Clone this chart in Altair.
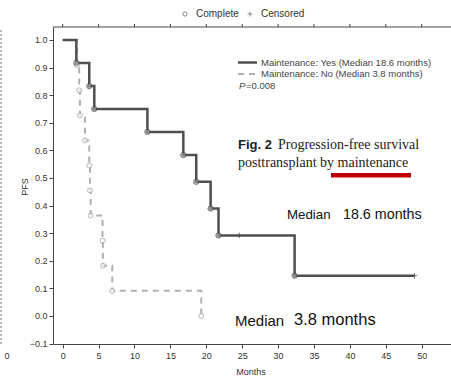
import altair as alt
import pandas as pd

# ---- data ----
yes_months = [0, 1.9, 3.7, 4.4, 11.8, 16.8, 18.6, 20.6, 21.7, 32.3, 49.0]
yes_pfs = [1.0, 0.917, 0.833, 0.75, 0.667, 0.583, 0.486, 0.389, 0.292, 0.146, 0.146]
yes_event_months = [1.9, 3.7, 4.4, 11.8, 16.8, 18.6, 20.6, 21.7, 32.3]
yes_event_pfs = [0.917, 0.833, 0.75, 0.667, 0.583, 0.486, 0.389, 0.292, 0.146]
yes_censor_months = [24.6, 49.0]
yes_censor_pfs = [0.292, 0.146]

no_months = [0, 2.0, 2.3, 2.4, 3.1, 3.7, 3.8, 3.9, 5.55, 5.6, 6.9, 19.3]
no_pfs = [1.0, 0.909, 0.818, 0.727, 0.636, 0.545, 0.455, 0.364, 0.273, 0.182, 0.091, 0.0]
no_event_months = no_months[1:]
no_event_pfs = no_pfs[1:]

x_ticks = list(range(0, 51, 5))
y_ticks = [-0.1, 0.0, 0.1, 0.2, 0.3, 0.4, 0.5, 0.6, 0.7, 0.8, 0.9, 1.0]

yes_df = pd.DataFrame({"m": yes_months, "p": yes_pfs})
no_df = pd.DataFrame({"m": no_months, "p": no_pfs})
yes_ev = pd.DataFrame({"m": yes_event_months, "p": yes_event_pfs})
no_ev = pd.DataFrame({"m": no_event_months, "p": no_event_pfs})
yes_cen = pd.DataFrame({"m": yes_censor_months, "p": yes_censor_pfs})
tick_df = pd.DataFrame({"m": x_ticks})

FONT = "Liberation Sans"
xs = alt.Scale(domain=[-1.35, 54.08], nice=False, zero=False)
ys = alt.Scale(domain=[-0.1015, 1.047], nice=False, zero=False)

X = alt.X("m:Q", scale=xs, axis=alt.Axis(values=x_ticks, format="d", title=None, grid=False,
          tickSize=4, labelPadding=3, labelFontSize=9, labelFont=FONT, labelColor="#333",
          domainColor="#444", tickColor="#444"))
Y = alt.Y("p:Q", scale=ys, axis=alt.Axis(values=y_ticks, format=".1f", title=None, grid=False,
          tickSize=4, labelPadding=2, labelFontSize=9, labelFont=FONT, labelColor="#333",
          domainColor="#444", tickColor="#444"))

no_line = alt.Chart(no_df).mark_line(interpolate="step-after", color="#b0b0b0",
                                     strokeWidth=2, strokeDash=[6, 5]).encode(x=X, y=Y)
yes_line = alt.Chart(yes_df).mark_line(interpolate="step-after", color="#4f4f4f",
                                       strokeWidth=2.5).encode(x=X, y=Y)
top_ticks = alt.Chart(tick_df).mark_rule(color="#444", strokeWidth=1).encode(
    x=X, y=alt.value(-3), y2=alt.value(0))
no_pts = alt.Chart(no_ev).mark_point(shape="circle", size=24, filled=True, fill="white",
                                     stroke="#9a9a9a", strokeWidth=1).encode(x=X, y=Y)
yes_pts = alt.Chart(yes_ev).mark_point(shape="circle", size=28, filled=True, fill="#999",
                                       stroke="#444", strokeWidth=1).encode(x=X, y=Y)
yes_cens = alt.Chart(yes_cen).mark_point(shape="M0,-1V1M-1,0H1", size=30, stroke="#444",
                                         strokeWidth=1).encode(x=X, y=Y)

one = alt.Data(values=[{}])


def txt(s, x, y, size=9, font=FONT, weight="normal", style="normal", color="#333",
        align="left", angle=0):
    return alt.Chart(one).mark_text(text=s, fontSize=size, font=font, fontWeight=weight,
                                    fontStyle=style, color=color, align=align,
                                    baseline="middle", angle=angle).encode(
        x=alt.value(x), y=alt.value(y))


# plot area origin at (53, 27) in page pixels
OX, OY = 53, 27
W, H = 398, 317
ann = [
    txt("PFS", 25 - OX, 187 - OY, size=9, align="center", angle=270),
    txt("Months", 251 - OX, 372 - OY, size=9, align="center"),
    txt("Complete", 196 - OX, 14 - OY, size=10),
    txt("Censored", 261 - OX, 14 - OY, size=10),
    txt("Maintenance: Yes (Median 18.6 months)", 261 - OX, 62.5 - OY, size=9.5, color="#444"),
    txt("Maintenance: No (Median 3.8 months)", 261 - OX, 74 - OY, size=9.5, color="#444"),
    txt("P", 239 - OX, 85.5 - OY, size=9.5, style="italic", color="#444"),
    txt("=0.008", 246 - OX, 85.5 - OY, size=9.5, color="#444"),
    txt("Fig. 2", 238 - OX, 145 - OY, size=13, weight="bold", color="#222"),
    txt("Progression-free survival", 278 - OX, 145 - OY, size=14, font="Liberation Serif", color="#222"),
    txt("posttransplant by maintenance", 238 - OX, 163 - OY, size=14, font="Liberation Serif", color="#222"),
    txt("Median", 287 - OX, 215 - OY, size=13.3, color="#111"),
    txt("18.6 months", 343 - OX, 215 - OY, size=14.3, color="#111"),
    txt("Median", 235 - OX, 321 - OY, size=15, color="#111"),
    txt("3.8 months", 294 - OX, 320 - OY, size=16.5, color="#111"),
    txt("0", 7 - OX, 356 - OY, size=9, align="center"),
]

sym_circle = alt.Chart(one).mark_point(shape="circle", size=18, stroke="#555", strokeWidth=1).encode(
    x=alt.value(185 - OX), y=alt.value(14 - OY))
sym_plus = alt.Chart(one).mark_point(shape="M0,-1V1M-1,0H1", size=24, stroke="#555", strokeWidth=1).encode(
    x=alt.value(250 - OX), y=alt.value(14 - OY))
leg_solid = alt.Chart(one).mark_rule(color="#4f4f4f", strokeWidth=2.5).encode(
    x=alt.value(238 - OX), x2=alt.value(257 - OX), y=alt.value(62.5 - OY))
leg_dash = alt.Chart(one).mark_rule(color="#b0b0b0", strokeWidth=2, strokeDash=[6, 5]).encode(
    x=alt.value(238 - OX), x2=alt.value(257 - OX), y=alt.value(74 - OY))
red_bar = alt.Chart(one).mark_rect(color="#c00000").encode(
    x=alt.value(331 - OX), x2=alt.value(411 - OX), y=alt.value(173 - OY), y2=alt.value(177.5 - OY))
left_edge = alt.Chart(one).mark_rule(color="#777", strokeWidth=1, strokeDash=[2, 2]).encode(
    x=alt.value(1 - OX), y=alt.value(30 - OY), y2=alt.value(345 - OY))
top_line = alt.Chart(one).mark_rule(color="#444", strokeWidth=1).encode(
    x=alt.value(0), x2=alt.value(W), y=alt.value(0))

chart = alt.layer(
    no_line, yes_line, no_pts, yes_pts, yes_cens, top_ticks, top_line,
    sym_circle, sym_plus, leg_solid, leg_dash, red_bar, left_edge, *ann
).properties(
    width=W, height=H,
    autosize=alt.AutoSizeParams(type="none"),
    padding={"left": OX, "top": OY, "right": 0, "bottom": 36},
    background="white",
).configure_view(strokeWidth=0)

chart.save("out.html", embed_options={"renderer": "svg", "actions": False})
